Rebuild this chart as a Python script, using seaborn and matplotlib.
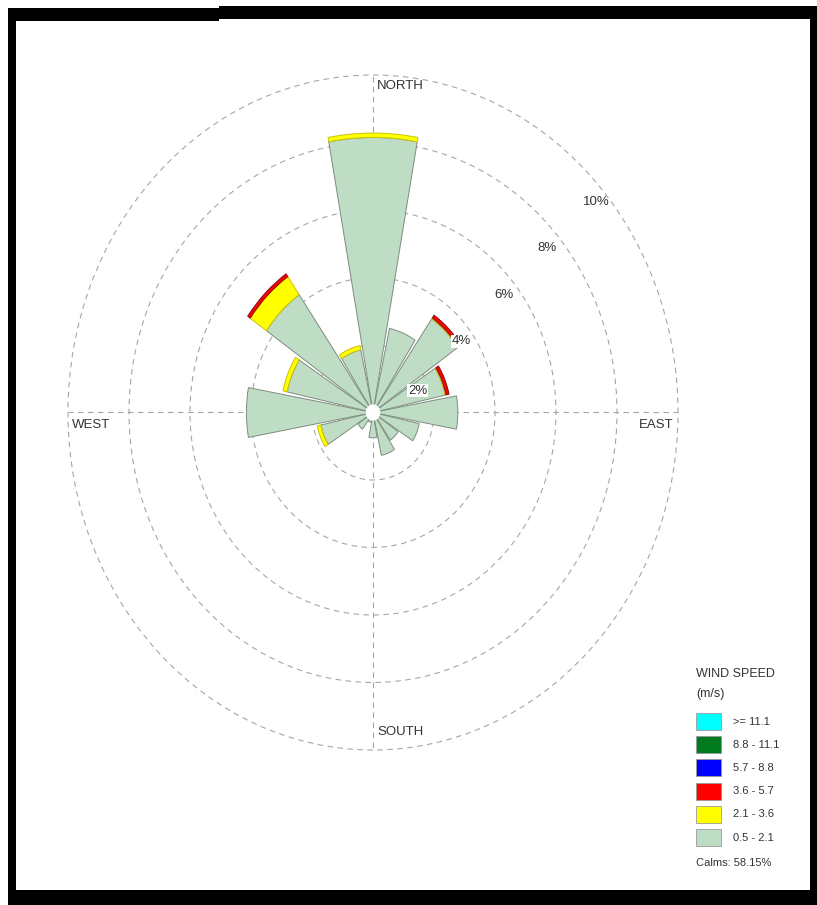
import numpy as np
import matplotlib
matplotlib.use("Agg")
import matplotlib.pyplot as plt
import seaborn as sns
from matplotlib.patches import Rectangle

# ==========================================================
# DATA (percent of time per direction and speed class)
# ==========================================================

directions = ["N", "NNE", "NE", "ENE", "E", "ESE", "SE", "SSE",
              "S", "SSW", "SW", "WSW", "W", "WNW", "NW", "NNW"]
bearings = [0, 22.5, 45, 67.5, 90, 112.5, 135, 157.5,
            180, 202.5, 225, 247.5, 270, 292.5, 315, 337.5]

speed_classes = ["0.5 - 2.1", "2.1 - 3.6", "3.6 - 5.7",
                 "5.7 - 8.8", "8.8 - 11.1", ">= 11.1"]
speed_colors = ["#bfdcc4", "#ffff00", "#ff0000", "#0000ff", "#007a1e", "#00ffff"]
edge_colors = ["#7d8c7f", "#c9c400", "#8c0c0c", "#00008c", "#00501a", "#009c9c"]

freq_05_21 = [8.15, 2.55, 3.38, 2.42, 2.78, 1.55, 1.00, 1.30,
              0.75, 0.30, 0.60, 1.75, 4.15, 2.88, 4.25, 1.90]
freq_21_36 = [0.13, 0.00, 0.03, 0.03, 0.00, 0.00, 0.00, 0.00,
              0.00, 0.00, 0.00, 0.12, 0.00, 0.14, 0.65, 0.13]
freq_36_57 = [0.00, 0.00, 0.10, 0.10, 0.00, 0.00, 0.00, 0.00,
              0.00, 0.00, 0.00, 0.00, 0.00, 0.00, 0.10, 0.00]
freq_57_88 = [0.0] * 16
freq_88_111 = [0.0] * 16
freq_111 = [0.0] * 16

rings = [2, 4, 6, 8, 10]
ring_labels = ["2%", "4%", "6%", "8%", "10%"]
calms = 58.15

# ==========================================================
# FIGURE
# ==========================================================

W, H = 817, 905
sns.set_theme(style="white")
plt.rcParams["font.family"] = ["Liberation Sans", "DejaVu Sans"]

fig = plt.figure(figsize=(W / 100, H / 100), dpi=100)
fig.patch.set_facecolor("white")


def px(x, y):
    # pixel (from top-left) -> figure fraction
    return x / W, 1 - y / H


# rose box: x 68..678, y 75..750 (image is stretched vertically)
left, right, top, bottom = 68, 678, 75, 750
ax = fig.add_axes([left / W, 1 - bottom / H, (right - left) / W, (bottom - top) / H],
                  projection="polar")
ax.set_aspect("auto")
ax.set_theta_zero_location("N")
ax.set_theta_direction(-1)
ax.set_ylim(0, 10)
ax.set_yticks(rings)
ax.set_yticklabels([])
ax.set_xticks(np.radians([0, 90, 180, 270]))
ax.set_xticklabels([])
ax.grid(True, color="#a6a6a6", linestyle=(0, (5, 4)), linewidth=0.8)
for gl in ax.yaxis.get_gridlines() + ax.xaxis.get_gridlines():
    gl.set_clip_on(False)
ax.spines["polar"].set_visible(False)
ax.set_facecolor("white")
ax.set_axisbelow(True)

theta = np.radians(bearings)
width = np.radians(20.5)
series = [freq_05_21, freq_21_36, freq_36_57, freq_57_88, freq_88_111, freq_111]

base = np.zeros(16)
for vals, col, ec in zip(series, speed_colors, edge_colors):
    vals = np.array(vals)
    m = vals > 0
    if m.any():
        ax.bar(theta[m], vals[m], width=width, bottom=base[m], color=col,
               edgecolor=ec, linewidth=0.7, zorder=3)
    base = base + vals

# calm circle in the middle
ax.bar(0, 0.24, width=2 * np.pi, bottom=0, color="white", edgecolor="none", zorder=4)

# ring labels
label_theta = [66, 54, 51, 49.5, 49.5]
label_r = [1.6, 3.58, 5.52, 7.5, 9.62]
for t, r, s in zip(label_theta, label_r, ring_labels):
    bb = dict(facecolor="white", edgecolor="none", pad=0.5) if r < 4 else None
    ax.text(np.radians(t), r, s, ha="center", va="center", fontsize=9.5,
            color="#333333", zorder=6, bbox=bb)

# direction labels
lab = dict(fontsize=9.5, color="#333333")
ax.text(0.507, 0.984, "NORTH", transform=ax.transAxes, ha="left", va="center", **lab)
ax.text(0.007, 0.481, "WEST", transform=ax.transAxes, ha="left", va="center", **lab)
ax.text(0.992, 0.481, "EAST", transform=ax.transAxes, ha="right", va="center", **lab)
ax.text(0.507, 0.027, "SOUTH", transform=ax.transAxes, ha="left", va="center", **lab)

# ==========================================================
# LEGEND
# ==========================================================

fig.text(*px(696, 674), "WIND SPEED", fontsize=9, color="#333333", va="center")
fig.text(*px(696, 694), "(m/s)", fontsize=9, color="#333333", va="center")
box_top = 713
step = 23.2
for i, (name, col, ec) in enumerate(zip(speed_classes[::-1], speed_colors[::-1],
                                        edge_colors[::-1])):
    y0 = box_top + i * step
    x0, y1 = px(696, y0 + 17)
    fig.add_artist(Rectangle((x0, y1), 25 / W, 17 / H, transform=fig.transFigure,
                             facecolor=col, edgecolor="#9a9a9a", linewidth=0.6))
    fig.text(*px(733, y0 + 8.5), name, fontsize=8, color="#333333", va="center")
fig.text(*px(696, 863), "Calms: %.2f%%" % calms, fontsize=8, color="#333333", va="center")

# ==========================================================
# BLACK FRAME
# ==========================================================

frame = [(8, 8, 211, 13), (219, 6, 598, 13), (8, 8, 8, 890), (810, 6, 7, 899),
         (8, 890, 809, 15)]
for x, y, w, h in frame:
    x0, y0 = px(x, y + h)
    fig.add_artist(Rectangle((x0, y0), w / W, h / H, transform=fig.transFigure,
                             facecolor="black", edgecolor="none"))

fig.savefig("out.png", dpi=100)
